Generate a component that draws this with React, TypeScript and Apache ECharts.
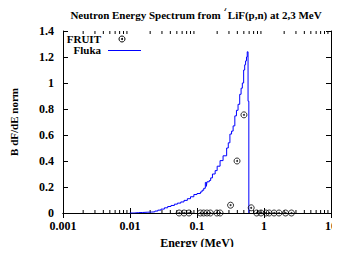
import React, { useEffect, useRef } from "react";
import * as echarts from "echarts";

// Fluka spectrum: bin lower edges (MeV) and values (step histogram)
const flukaEnergy = [
  0.0099, 0.0115, 0.0135, 0.0155, 0.018, 0.0208, 0.0235, 0.026, 0.029, 0.0326,
  0.0365, 0.0409, 0.046, 0.051, 0.0573, 0.064, 0.0718, 0.08, 0.0898, 0.1,
  0.1125, 0.119, 0.126, 0.1332, 0.138, 0.1409, 0.1525, 0.16, 0.17, 0.1866,
  0.2, 0.221, 0.245, 0.277, 0.293, 0.31, 0.328, 0.346, 0.367, 0.388,
  0.41, 0.434, 0.455, 0.475, 0.497, 0.515, 0.531, 0.548, 0.562, 0.578, 0.594,
];
const flukaValue = [
  0.0, 0.003, 0.004, 0.006, 0.007, 0.009, 0.015, 0.022, 0.03, 0.04,
  0.05, 0.058, 0.068, 0.076, 0.085, 0.097, 0.11, 0.125, 0.142, 0.15,
  0.162, 0.175, 0.19, 0.235, 0.205, 0.24, 0.25, 0.27, 0.3, 0.326,
  0.36, 0.403, 0.44, 0.5, 0.54, 0.607, 0.63, 0.67, 0.747, 0.79,
  0.836, 0.913, 0.96, 1.0, 1.1, 1.14, 1.17, 1.2, 1.24, 0.86, 0,
];

// FRUIT points
const fruitEnergy = [
  0.0541, 0.0641, 0.0759, 0.1125, 0.1258, 0.141, 0.158, 0.198, 0.221,
  0.317, 0.396, 0.502, 0.644,
  0.778, 0.902, 1.068, 1.194, 1.413, 1.673, 2.097, 2.568,
];
const fruitValue = [
  0, 0, 0, 0, 0, 0, 0, 0, 0,
  0.06, 0.40, 0.755, 0.04,
  0, 0, 0, 0, 0, 0, 0, 0,
];

const xMin = 0.001;
const xMax = 10;
const yTicks = [0, 0.2, 0.4, 0.6, 0.8, 1, 1.2, 1.4];
const minorMultipliers = [2, 3, 4, 5, 6, 7, 8, 9];
const decades = [0.001, 0.01, 0.1, 1];

const FONT = "Liberation Serif";
const BLUE = "#0000ff";

export default function App() {
  const ref = useRef<HTMLDivElement>(null);

  useEffect(() => {
    if (!ref.current) return;
    const chart = echarts.init(ref.current, undefined, { renderer: "svg" });

    const flukaData = flukaEnergy.map((e, i) => [e, flukaValue[i]]);
    const fruitData = fruitEnergy.map((e, i) => [e, fruitValue[i]]);
    const minorData: number[][] = [];
    decades.forEach((d) =>
      minorMultipliers.forEach((m) => minorData.push([d * m, 0]))
    );

    const labelStyle = {
      fontFamily: FONT,
      fontWeight: "bold" as const,
      fontSize: 12,
      color: "#000",
    };

    const axisLine = { show: true, lineStyle: { color: "#000", width: 1 } };

    chart.setOption({
      animation: false,
      backgroundColor: "#fff",
      grid: { left: 60, right: 7, top: 31, bottom: 42, containLabel: false },
      xAxis: [
        {
          type: "log",
          logBase: 10,
          min: xMin,
          max: xMax,
          position: "bottom",
          axisLine,
          axisTick: { show: true, inside: true, length: 5, lineStyle: { color: "#000" } },
          axisLabel: {
            ...labelStyle,
            margin: 7,
            formatter: (v: number) => String(+v.toPrecision(1)),
          },
          splitLine: { show: false },
          name: "Energy (MeV)",
          nameLocation: "middle",
          nameGap: 24,
          nameTextStyle: { ...labelStyle, fontSize: 12 },
        },
        {
          type: "log",
          logBase: 10,
          min: xMin,
          max: xMax,
          position: "top",
          axisLine,
          axisTick: { show: true, inside: true, length: 5, lineStyle: { color: "#000" } },
          axisLabel: { show: false },
          splitLine: { show: false },
        },
      ],
      yAxis: [
        {
          type: "value",
          min: 0,
          max: 1.4,
          interval: 0.2,
          position: "left",
          axisLine,
          axisTick: { show: true, inside: true, length: 5, lineStyle: { color: "#000" } },
          axisLabel: {
            ...labelStyle,
            margin: 9,
            formatter: (v: number) => {
              const t = yTicks.find((y) => Math.abs(y - v) < 1e-6);
              return String(t !== undefined ? t : v);
            },
          },
          splitLine: { show: false },
          name: "B dF/dE norm",
          nameLocation: "middle",
          nameGap: 44,
          nameRotate: 90,
          nameTextStyle: { ...labelStyle, fontSize: 11 },
        },
        {
          type: "value",
          min: 0,
          max: 1.4,
          interval: 0.2,
          position: "right",
          axisLine,
          axisTick: { show: true, inside: true, length: 5, lineStyle: { color: "#000" } },
          axisLabel: { show: false },
          splitLine: { show: false },
        },
      ],
      graphic: [
        {
          type: "text",
          x: 196,
          y: 3,
          style: {
            text: "{a|Neutron Energy Spectrum from }{s|7}{a|LiF(p,n) at 2,3 MeV}",
            textAlign: "center",
            rich: {
              a: {
                fontFamily: FONT,
                fontWeight: "bold",
                fontSize: 11,
                lineHeight: 17,
                verticalAlign: "bottom",
                fill: "#000",
              },
              s: {
                fontFamily: FONT,
                fontWeight: "bold",
                fontSize: 9,
                lineHeight: 17,
                verticalAlign: "top",
                fill: "#000",
              },
            },
          },
        },
        {
          type: "text",
          x: 101,
          y: 39,
          style: {
            text: "FRUIT",
            textAlign: "right",
            textVerticalAlign: "middle",
            fontFamily: FONT,
            fontWeight: "bold",
            fontSize: 11,
            fill: "#000",
          },
        },
        {
          type: "circle",
          shape: { cx: 122, cy: 39, r: 3 },
          style: { fill: "none", stroke: "#000", lineWidth: 1 },
        },
        {
          type: "circle",
          shape: { cx: 122, cy: 39, r: 1 },
          style: { fill: "#000" },
        },
        {
          type: "text",
          x: 101,
          y: 50,
          style: {
            text: "Fluka",
            textAlign: "right",
            textVerticalAlign: "middle",
            fontFamily: FONT,
            fontWeight: "bold",
            fontSize: 11,
            fill: "#000",
          },
        },
        {
          type: "line",
          shape: { x1: 108, y1: 50.5, x2: 141, y2: 50.5 },
          style: { stroke: BLUE, lineWidth: 1 },
        },
      ],
      series: [
        {
          type: "custom",
          xAxisIndex: 0,
          yAxisIndex: 0,
          silent: true,
          clip: false,
          data: minorData,
          renderItem: (params: any, api: any) => {
            const p = api.coord([api.value(0), 0]);
            const cs = params.coordSys;
            const bottom = cs.y + cs.height;
            return {
              type: "group",
              children: [
                {
                  type: "line",
                  shape: { x1: p[0], y1: bottom, x2: p[0], y2: bottom - 3 },
                  style: { stroke: "#000", lineWidth: 1 },
                },
                {
                  type: "line",
                  shape: { x1: p[0], y1: cs.y, x2: p[0], y2: cs.y + 3 },
                  style: { stroke: "#000", lineWidth: 1 },
                },
              ],
            };
          },
        },
        {
          name: "Fluka",
          type: "line",
          step: "end",
          data: flukaData,
          showSymbol: false,
          symbol: "none",
          lineStyle: { color: BLUE, width: 1 },
          z: 3,
        },
        {
          name: "FRUIT",
          type: "scatter",
          data: fruitData,
          symbol: "circle",
          symbolSize: 6,
          itemStyle: { color: "rgba(0,0,0,0)", borderColor: "#000", borderWidth: 1 },
          z: 4,
        },
        {
          name: "FRUIT-dot",
          type: "scatter",
          data: fruitData,
          symbol: "circle",
          symbolSize: 2,
          itemStyle: { color: "#000" },
          z: 5,
        },
      ],
    });

    return () => chart.dispose();
  }, []);

  return <div ref={ref} style={{ width: 340, height: 255, margin: -8 }} />;
}
